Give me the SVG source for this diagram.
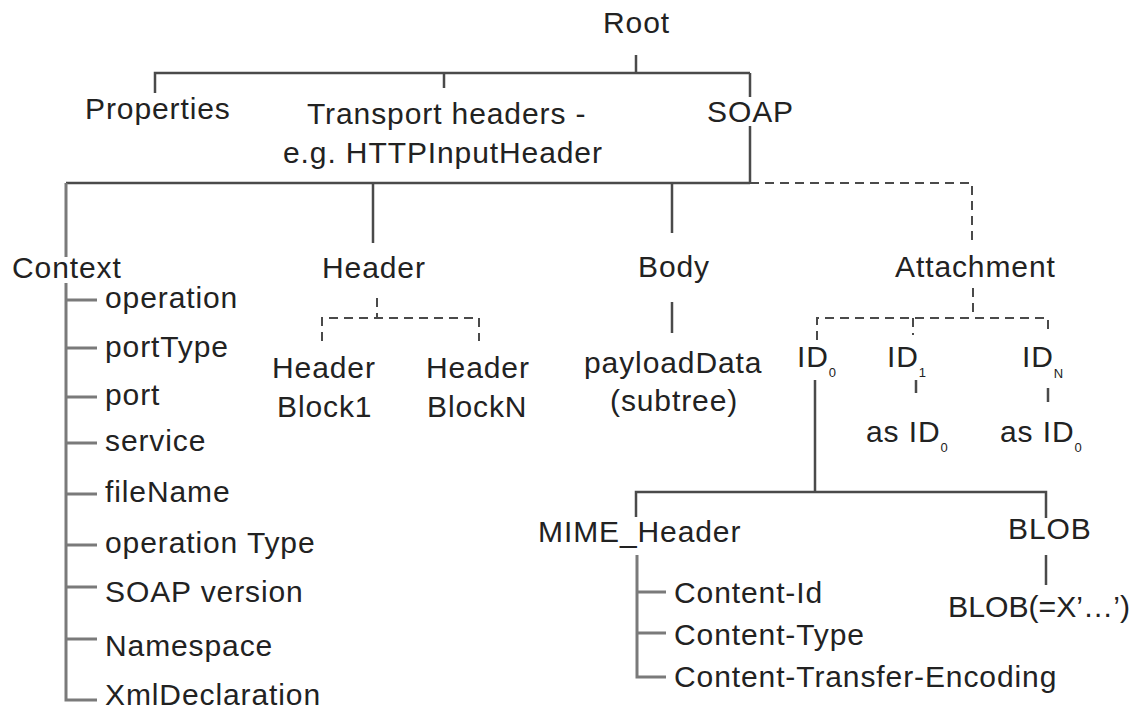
<svg xmlns="http://www.w3.org/2000/svg" width="1137" height="711" viewBox="0 0 1137 711">
<style>
.t{font-family:"Liberation Sans",Arial,Helvetica,sans-serif;font-size:30px;fill:#222;letter-spacing:0.9px}
.sub{font-size:13px;letter-spacing:0}
.s{stroke:#4a4a4a;stroke-width:2.5;fill:none}
.g{stroke:#7a7a7a;stroke-width:3;fill:none}
.d{stroke:#4a4a4a;stroke-width:2;fill:none;stroke-dasharray:9 6}
</style>
<rect width="1137" height="711" fill="#fff"/>
<g id="connectors">
  <path class="s" d="M636 55V73M155 93V73H750M444 73V88M750 73V97M750 126V183M66 183H750"/>
  <path class="d" d="M750 183H972V242"/>
  <path class="s" d="M373 183V243M672 183V233"/>
  <path class="g" d="M66 183V257M66 283V700H97M66 300H97M66 348H97M66 397H97M66 443H97M66 494H97M66 545H97M66 587H97M66 639H97"/>
  <path class="d" d="M377 298V318M322 341V318H479V341"/>
  <path class="s" d="M672 302V333"/>
  <path class="d" d="M973 288V318M817 340V318H1048V332M913 318V335"/>
  <path class="s" d="M916 380V393M1048 388V402"/>
  <path class="s" d="M815 380V492M636 517V492H1046V518M1046 555V585"/>
  <path class="g" d="M637 555V677H666M637 592H666M637 633H666"/>
</g>
<g id="root"><text class="t" x="603" y="33">Root</text></g>
<g id="properties"><text class="t" x="85" y="119">Properties</text></g>
<g id="transport"><text class="t" x="307" y="124">Transport headers -</text><text class="t" x="283" y="163">e.g. HTTPInputHeader</text></g>
<g id="soap"><text class="t" x="707" y="122">SOAP</text></g>
<g id="context"><text class="t" x="12" y="278">Context</text></g>
<g id="ctx-items">
  <text class="t" x="105" y="308">operation</text>
  <text class="t" x="105" y="357">portType</text>
  <text class="t" x="105" y="405">port</text>
  <text class="t" x="105" y="451">service</text>
  <text class="t" x="105" y="502">fileName</text>
  <text class="t" x="105" y="553">operation Type</text>
  <text class="t" x="105" y="602">SOAP version</text>
  <text class="t" x="105" y="656">Namespace</text>
  <text class="t" x="105" y="705">XmlDeclaration</text>
</g>
<g id="header"><text class="t" x="322" y="278">Header</text></g>
<g id="headerblock1"><text class="t" x="272" y="378">Header</text><text class="t" x="277" y="417">Block1</text></g>
<g id="headerblockn"><text class="t" x="426" y="378">Header</text><text class="t" x="427" y="417">BlockN</text></g>
<g id="body"><text class="t" x="638" y="277">Body</text></g>
<g id="payload"><text class="t" x="584" y="373">payloadData</text><text class="t" x="610" y="411">(subtree)</text></g>
<g id="attachment"><text class="t" x="895" y="277">Attachment</text></g>
<g id="id0"><text class="t" x="797" y="367">ID<tspan class="sub" dy="10">0</tspan></text></g>
<g id="id1"><text class="t" x="887" y="367">ID<tspan class="sub" dy="10">1</tspan></text></g>
<g id="idn"><text class="t" x="1022" y="367">ID<tspan class="sub" dy="11">N</tspan></text></g>
<g id="id1-as"><text class="t" x="866" y="442">as ID<tspan class="sub" dy="10">0</tspan></text></g>
<g id="idn-as"><text class="t" x="1000" y="442">as ID<tspan class="sub" dy="10">0</tspan></text></g>
<g id="mime"><text class="t" x="538" y="542">MIME_Header</text></g>
<g id="mime-items">
  <text class="t" x="674" y="603">Content-Id</text>
  <text class="t" x="674" y="645">Content-Type</text>
  <text class="t" x="674" y="687">Content-Transfer-Encoding</text>
</g>
<g id="blob"><text class="t" x="1008" y="539">BLOB</text></g>
<g id="blobval"><text class="t" x="948" y="617" style="letter-spacing:0" textLength="182" lengthAdjust="spacingAndGlyphs">BLOB(=X’…’)</text></g>
</svg>
